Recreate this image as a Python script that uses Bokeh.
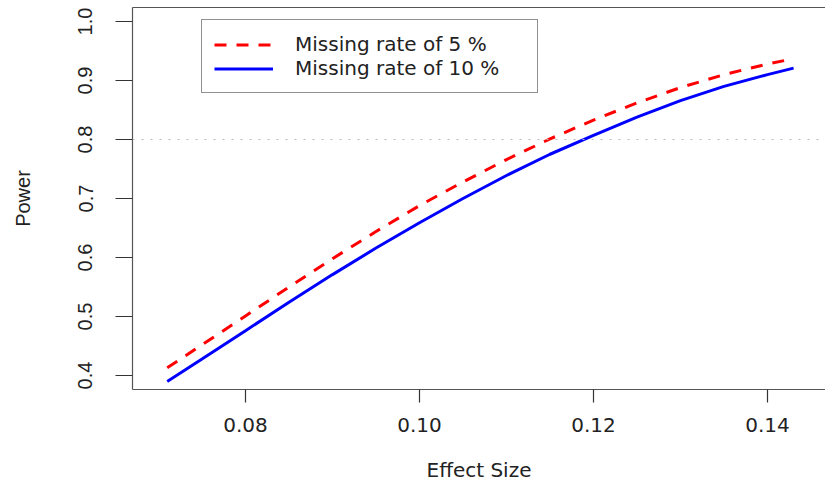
from bokeh.plotting import figure
from bokeh.models import Range1d, LinearAxis, FixedTicker, PrintfTickFormatter, Span, Legend, LegendItem
from bokeh.embed import file_html
from bokeh.resources import INLINE

effect_size = [0.071, 0.075, 0.080, 0.085, 0.090, 0.095, 0.100, 0.105, 0.110,
               0.115, 0.120, 0.125, 0.130, 0.135, 0.140, 0.143]
power_5 = [0.413, 0.452, 0.501, 0.550, 0.598, 0.644, 0.688, 0.728, 0.766,
           0.801, 0.833, 0.862, 0.888, 0.910, 0.928, 0.937]
power_10 = [0.390, 0.428, 0.476, 0.524, 0.571, 0.616, 0.659, 0.700, 0.739,
            0.775, 0.807, 0.838, 0.866, 0.890, 0.910, 0.921]
x_ticks = [0.08, 0.10, 0.12, 0.14]
y_ticks = [0.4, 0.5, 0.6, 0.7, 0.8, 0.9, 1.0]
target_power = 0.8
labels = ["Missing rate of 5 %", "Missing rate of 10 %"]

p = figure(width=825, height=484, output_backend="svg", toolbar_location=None,
           x_range=Range1d(0.06701, 0.14667), y_range=Range1d(0.37627, 1.02373),
           min_border_left=132, min_border_right=0, min_border_top=7, min_border_bottom=95)
p.outline_line_color = None
p.grid.visible = False
p.background_fill_color = "white"

xa = p.xaxis[0]
xa.ticker = FixedTicker(ticks=x_ticks)
xa.formatter = PrintfTickFormatter(format="%.2f")
xa.axis_label = "Effect Size"
ya = p.yaxis[0]
ya.ticker = FixedTicker(ticks=y_ticks)
ya.formatter = PrintfTickFormatter(format="%.1f")
ya.axis_label = "Power"
ya.major_label_orientation = "vertical"

for ax in (xa, ya):
    ax.axis_line_color = "#555555"
    ax.axis_line_width = 1.2
    ax.major_tick_line_color = "#333333"
    ax.major_tick_line_width = 1.2
    ax.minor_tick_line_color = None
    ax.major_tick_in = 0
    ax.major_label_text_color = "#222222"
    ax.axis_label_text_color = "#222222"
    ax.axis_label_text_font_style = "normal"

xa.major_tick_out = 13
xa.major_label_text_font = "DejaVu Sans"
xa.major_label_text_font_size = "20px"
xa.major_label_standoff = 15
xa.axis_label_text_font = "DejaVu Sans"
xa.axis_label_text_font_size = "20px"
xa.axis_label_standoff = 23

ya.major_tick_out = 17
ya.major_label_text_font = "Liberation Sans"
ya.major_label_text_font_size = "20px"
ya.major_label_standoff = 23
ya.axis_label_text_font = "Liberation Sans"
ya.axis_label_text_font_size = "20px"
ya.axis_label_standoff = 42

top = LinearAxis(ticker=FixedTicker(ticks=[]), major_label_text_font_size="0px",
                 axis_line_color="#555555", axis_line_width=1.2,
                 major_tick_line_color=None, minor_tick_line_color=None)
p.add_layout(top, "above")

p.add_layout(Span(location=target_power, dimension="width", line_color="#bbbbbb",
                  line_width=1, line_dash="2 7"))

r5 = p.line(effect_size, power_5, line_color="#ff0000", line_width=3, line_dash="12 10")
r10 = p.line(effect_size, power_10, line_color="#0000ff", line_width=3)

legend = Legend(items=[LegendItem(label=labels[0], renderers=[r5]),
                       LegendItem(label=labels[1], renderers=[r10])],
                location=(69, 296), margin=0, padding=12, spacing=0,
                glyph_height=23, label_height=23, glyph_width=59, label_standoff=22,
                label_width=230, label_text_font="DejaVu Sans", label_text_font_size="20px",
                label_text_color="#222222",
                border_line_color="#222222", border_line_width=1.2,
                background_fill_color="white", background_fill_alpha=1.0)
p.add_layout(legend, "center")

open("out.html", "w").write(file_html(p, INLINE))
